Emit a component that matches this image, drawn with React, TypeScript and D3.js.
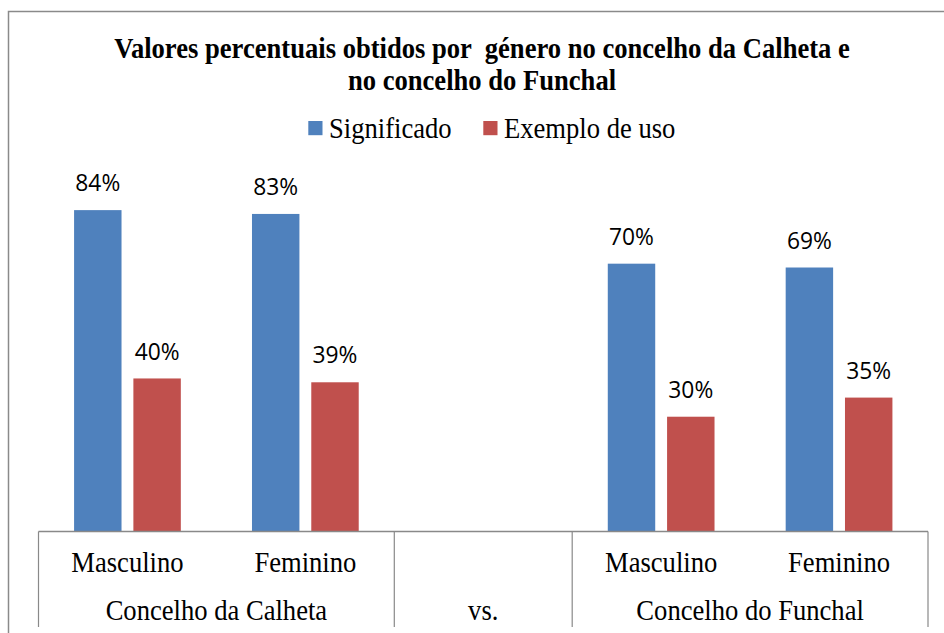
import React from "react";
import * as d3 from "d3";

const categories = ["Masculino", "Feminino", "", "Masculino", "Feminino"];
const groups = [
  { label: "Concelho da Calheta", from: 0, to: 1 },
  { label: "vs.", from: 2, to: 2 },
  { label: "Concelho do Funchal", from: 3, to: 4 },
];
const seriesNames = ["Significado", "Exemplo de uso"];
const significado: (number | null)[] = [84, 83, null, 70, 69];
const exemploDeUso: (number | null)[] = [40, 39, null, 30, 35];
const seriesColors = ["#4F81BD", "#C0504D"];
const titleLines = [
  "Valores percentuais obtidos por  género no concelho da Calheta e",
  "no concelho do Funchal",
];

const W = 944;
const H = 633;
const SERIF = "'Liberation Serif', 'Times New Roman', serif";
const SANS = "'Open Sans', 'Noto Sans', sans-serif";
const AX = "#898989";

export default function App() {
  const series = [significado, exemploDeUso];
  const x = d3
    .scaleBand<number>()
    .domain(d3.range(categories.length))
    .range([38.5, 928])
    .padding(0);
  const xs = d3
    .scaleBand<number>()
    .domain(d3.range(series.length))
    .range([0, x.bandwidth()])
    .paddingInner(0.2)
    .paddingOuter(0.6);
  const y = d3.scaleLinear().domain([0, 100]).range([531.5, 148.9]);
  const base = y(0);
  const sy = "scale(1,1.1)";
  const fs = 26.6;

  const boundaries: number[] = [];
  groups.forEach((g) => boundaries.push(x(g.from)!));
  boundaries.push(x(groups[groups.length - 1].to)! + x.bandwidth());

  return (
    <svg
      width={W}
      height={H}
      style={{ position: "absolute", left: 0, top: 0, display: "block", background: "#fff" }}
    >
      <rect x={0} y={0} width={W} height={H} fill="#fff" />
      <rect x={8.5} y={11.5} width={1000} height={800} fill="none" stroke="#8a8a8a" strokeWidth={1.5} />

      {titleLines.map((t, i) => (
        <text
          key={i}
          transform={`translate(482,${58 + i * 32}) ${sy}`}
          textAnchor="middle"
          fontFamily={SERIF}
          fontWeight="bold"
          fontSize={fs}
          style={{ whiteSpace: "pre" }}
          fill="#000"
        >
          {t}
        </text>
      ))}

      {seriesNames.map((n, i) => {
        const lx = [308.3, 483.3][i];
        return (
          <g key={n}>
            <rect x={lx} y={121} width={14.2} height={14.2} fill={seriesColors[i]} />
            <text
              transform={`translate(${lx + 20.7},137.7) ${sy}`}
              fontFamily={SERIF}
              fontSize={fs}
              fill="#000"
            >
              {n}
            </text>
          </g>
        );
      })}

      {categories.map((c, ci) =>
        series.map((s, si) => {
          const v = s[ci];
          if (v == null) return null;
          const bx = x(ci)! + xs(si)!;
          return (
            <g key={`${ci}-${si}`}>
              <rect
                x={bx}
                y={y(v)}
                width={xs.bandwidth()}
                height={base - y(v)}
                fill={seriesColors[si]}
              />
              <text
                x={bx + xs.bandwidth() / 2}
                y={y(v) - 18.8}
                textAnchor="middle"
                fontFamily={SANS}
                fontSize={22.8}
                fill="#000"
              >
                {`${v}%`}
              </text>
            </g>
          );
        })
      )}

      <line x1={boundaries[0]} x2={boundaries[boundaries.length - 1]} y1={base} y2={base} stroke={AX} strokeWidth={1.5} />
      {boundaries.map((b, i) => (
        <line key={i} x1={b} x2={b} y1={base} y2={627} stroke={AX} strokeWidth={1.2} />
      ))}

      {categories.map((c, ci) =>
        c ? (
          <text
            key={ci}
            transform={`translate(${x(ci)! + x.bandwidth() / 2},572) ${sy}`}
            textAnchor="middle"
            fontFamily={SERIF}
            fontSize={fs}
            fill="#000"
          >
            {c}
          </text>
        ) : null
      )}
      {groups.map((g) => (
        <text
          key={g.label}
          transform={`translate(${(x(g.from)! + x(g.to)! + x.bandwidth()) / 2},620) ${sy}`}
          textAnchor="middle"
          fontFamily={SERIF}
          fontSize={fs}
          fill="#000"
        >
          {g.label}
        </text>
      ))}
    </svg>
  );
}
